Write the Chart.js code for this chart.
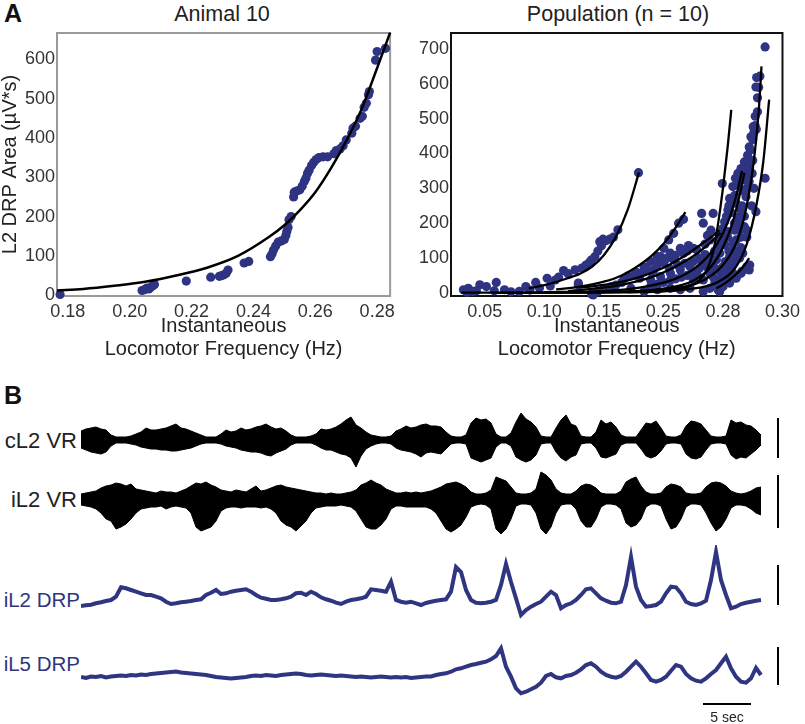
<!DOCTYPE html>
<html>
<head>
<meta charset="utf-8">
<script src="https://cdn.jsdelivr.net/npm/chart.js@4.4.0/dist/chart.umd.min.js"></script>
<style>
  body { margin: 0; background: #fff; font-family: "Liberation Sans", Arial, sans-serif; }
  #fig { position: relative; width: 805px; height: 724px; overflow: hidden; }
  canvas, .txt { position: absolute; }
  .txt { white-space: nowrap; height: 26px; line-height: 26px; color: #222; }
  .panel { font-weight: bold; font-size: 25px; color: #111; }
  .ttl { font-size: 21.5px; text-align: center; }
  .lbl { font-size: 22px; text-align: right; width: 77px; left: 0; }
  .drp { font-size: 20.5px; width: 80px; color: #2f3580; }
</style>
</head>
<body>
<div id="fig">
  <div class="txt panel" style="left:4px;top:0px">A</div>
  <div class="txt ttl" style="left:122px;top:1px;width:200px">Animal 10</div>
  <div class="txt ttl" style="left:518px;top:1px;width:200px">Population (n = 10)</div>
  <canvas id="animalChart" width="400" height="362" style="left:0;top:0"></canvas>
  <canvas id="popChart" width="405" height="362" style="left:400px;top:0"></canvas>

  <div class="txt panel" style="left:4px;top:382px">B</div>
  <div class="txt lbl" style="top:428px">cL2 VR</div>
  <div class="txt lbl" style="top:487px">iL2 VR</div>
  <div class="txt lbl drp" style="top:587px">iL2 DRP</div>
  <div class="txt lbl drp" style="top:651px">iL5 DRP</div>
  <canvas id="cl2Chart" width="705" height="60" style="left:81px;top:410px"></canvas>
  <canvas id="il2Chart" width="705" height="70" style="left:81px;top:468px"></canvas>
  <canvas id="il2DrpChart" width="705" height="80" style="left:81px;top:545px"></canvas>
  <canvas id="il5DrpChart" width="705" height="70" style="left:81px;top:640px"></canvas>
  <div class="txt" style="left:697px;top:704px;width:60px;text-align:center;font-size:14px">5 sec</div>
</div>

<script>
// ---- Panel A, Animal 10 ----
const animalXTicks = [0.18, 0.20, 0.22, 0.24, 0.26, 0.28];
const animalYTicks = [0, 100, 200, 300, 400, 500, 600];
const animalFreq = [0.1775, 0.2040, 0.2048, 0.2055, 0.2062, 0.2068, 0.2075, 0.2080, 0.2183, 0.2262,
  0.2290, 0.2298, 0.2305, 0.2312, 0.2318, 0.2370, 0.2385, 0.2455, 0.2460, 0.2465,
  0.2472, 0.2480, 0.2490, 0.2500, 0.2505, 0.2508, 0.2512, 0.2515, 0.2522, 0.2530,
  0.2532, 0.2540, 0.2550, 0.2558, 0.2565, 0.2570, 0.2575, 0.2580, 0.2588, 0.2595,
  0.2603, 0.2612, 0.2625, 0.2640, 0.2660, 0.2668, 0.2680, 0.2690, 0.2700, 0.2718,
  0.2722, 0.2730, 0.2745, 0.2752, 0.2758, 0.2765, 0.2772, 0.2775, 0.2795, 0.2800, 0.2827];
const animalArea = [2, 12, 14, 18, 16, 20, 24, 27, 36, 46,
  48, 50, 52, 56, 64, 82, 86, 98, 105, 115,
  125, 135, 138, 142, 152, 162, 172, 192, 200, 250,
  262, 265, 268, 278, 290, 298, 310, 318, 330, 338,
  345, 350, 352, 352, 360, 368, 372, 380, 395, 412,
  425, 430, 450, 455, 478, 488, 510, 518, 598, 620, 628];
const animalFitFreq = [0.1765, 0.185, 0.195, 0.205, 0.215, 0.225, 0.235, 0.245, 0.250, 0.255, 0.260, 0.265, 0.270, 0.275, 0.280, 0.2842];
const animalFitArea = [12, 16, 24, 34, 50, 70, 100, 148, 178, 216, 262, 322, 392, 474, 578, 668];

// ---- Panel A, Population ----
const popXTicks = [0.05, 0.10, 0.15, 0.20, 0.25, 0.30];
const popXLabels = ['0.05', '0.10', '0.15', '0.25', '0.28', '0.30'];
const popYTicks = [0, 100, 200, 300, 400, 500, 600, 700];
const popFreq = [
  0.0321, 0.0362, 0.0403, 0.0459, 0.0514, 0.0597, 0.0666, 0.0790, 0.0845, 0.0928, 0.1024, 0.1093, 0.1162, 0.1259, 0.1314,
  0.1397, 0.1425, 0.1466, 0.1493, 0.1549, 0.1618, 0.1791, 0.0350, 0.0430, 0.0580, 0.0720, 0.0880, 0.0960, 0.1050, 0.1120,
  0.1200, 0.1350, 0.1380, 0.1450, 0.1480, 0.1520, 0.1580,
  0.1286, 0.1286, 0.1410, 0.1576, 0.1397, 0.1562, 0.1728, 0.1893, 0.2059, 0.2252,
  0.1673, 0.1756, 0.1838, 0.1921, 0.2004, 0.2087, 0.2169, 0.2252,
  0.1838, 0.1893, 0.1949, 0.2004, 0.2045, 0.2087, 0.2128, 0.2169,
  0.1976, 0.2059, 0.2142, 0.2211, 0.2280, 0.2335, 0.2321, 0.2418, 0.2390,
  0.1700, 0.1780, 0.1860, 0.1950, 0.2030, 0.2100, 0.2200, 0.1900, 0.1800, 0.1650, 0.1600, 0.1500, 0.1450,
  0.2445, 0.2459, 0.2487, 0.2514, 0.2542, 0.2570, 0.2583, 0.2605, 0.2625, 0.2652, 0.2680, 0.2707, 0.2721, 0.2735, 0.2754,
  0.2771, 0.2777, 0.2783, 0.2810, 0.2854, 0.2854, 0.2777, 0.2666, 0.2625, 0.2495,
  0.2542, 0.2583, 0.2556, 0.2611, 0.2666, 0.2721, 0.2694, 0.2652, 0.2611, 0.2556, 0.2501, 0.2473, 0.2390, 0.2363, 0.2335,
  0.2280, 0.2224, 0.2142, 0.2059, 0.1976, 0.1893, 0.2501, 0.2528, 0.2570, 0.2611, 0.2639, 0.2597, 0.2652, 0.2694, 0.2745,
  0.2707, 0.2680, 0.2514, 0.2473, 0.2611, 0.2556, 0.2473, 0.2432, 0.2390, 0.2335, 0.2224, 0.2142, 0.2059, 0.1949, 0.1838,
  0.2460, 0.2500, 0.2540, 0.2580, 0.2620, 0.2660, 0.2700, 0.2725,
  0.2700, 0.2740, 0.2760, 0.2680, 0.2720, 0.2600, 0.2650, 0.2560, 0.2640, 0.2780, 0.2790, 0.2470, 0.2430, 0.2400, 0.2360,
  0.2480, 0.2500, 0.2530, 0.2550, 0.2570, 0.2590, 0.2600, 0.2620, 0.2640, 0.2660, 0.2690, 0.2710, 0.2730, 0.2750, 0.2760,
  0.2770, 0.2790, 0.2800, 0.2600, 0.2620, 0.2640, 0.2660, 0.2700, 0.2720, 0.2750, 0.2680, 0.2700, 0.2650, 0.2620, 0.2590,
  0.2570, 0.2530, 0.2490, 0.2450, 0.2420, 0.2480, 0.2520, 0.2550, 0.2580, 0.2540, 0.2440, 0.2410, 0.2380, 0.2350, 0.2320,
  0.2300, 0.2260, 0.2200, 0.2150, 0.2100, 0.2000, 0.1950, 0.2300, 0.2250, 0.2180, 0.2120, 0.2050, 0.2350, 0.2400, 0.2370];
const popArea = [
  9, 13, 4, 23, 18, 30, 9, 4, 18, 30, 42, 37, 64, 66, 71,
  95, 104, 147, 154, 154, 181, 345, 2, 6, 6, 3, 8, 14, 20, 45,
  55, 80, 88, 120, 135, 150, 160,
  28, 23, -6, 14, -3, 18, 13, 18, 37, 37,
  42, 52, 61, 66, 87, 95, 114, 128,
  75, 90, 104, 128, 152, 171, 200, 211,
  104, 114, 128, 136, 124, 200, 228, 228, 152,
  48, 58, 70, 80, 100, 108, 120, 60, 42, 30, 22, 12, 5,
  95, 133, 171, 204, 238, 271, 305, 329, 343, 357, 376, 395, 419, 448, 477,
  507, 591, 618, 622, 706, 329, 233, 293, 209, 314,
  176, 142, 104, 95, 114, 66, 71, 56, 42, 28, 18, 4, 56, 75, 37,
  56, 75, 66, 56, 47, 37, 75, 66, 66, 152, 181, 200, 238, 276, 343,
  338, 324, 138, 114, 257, 271, 37, 28, 13, 4, 13, 9, 13, 9, 4,
  8, 22, 30, 42, 52, 62, 75, 80,
  180, 250, 300, 220, 360, 120, 160, 60, 100, 470, 520, 165, 120, 100, 88,
  150, 185, 220, 250, 230, 260, 280, 310, 330, 340, 360, 380, 410, 440, 460,
  480, 560, 590, 180, 200, 220, 250, 300, 320, 380, 190, 160, 130, 110, 90,
  80, 50, 40, 30, 45, 60, 90, 120, 110, 160, 70, 80, 100, 110, 90,
  70, 60, 50, 45, 40, 30, 25, 100, 90, 85, 80, 70, 140, 180, 165];
const popFitFreqs = [
  [0.087, 0.100, 0.115, 0.130, 0.140, 0.150, 0.160, 0.170, 0.1795],
  [0.110, 0.130, 0.150, 0.165, 0.180, 0.190, 0.200, 0.210, 0.2185],
  [0.170, 0.200, 0.220, 0.230, 0.236, 0.242, 0.246, 0.250, 0.254, 0.257],
  [0.030, 0.150, 0.200, 0.230, 0.250, 0.262, 0.270, 0.276, 0.280, 0.2824],
  [0.060, 0.180, 0.220, 0.245, 0.260, 0.270, 0.278, 0.284, 0.2888],
  [0.2445, 0.252, 0.260, 0.267, 0.272],
  [0.130, 0.160, 0.180, 0.200, 0.215, 0.230, 0.240, 0.247],
  [0.120, 0.160, 0.190, 0.210, 0.225, 0.238, 0.248],
  [0.100, 0.150, 0.180, 0.210, 0.230, 0.245, 0.255, 0.262, 0.266],
  [0.100, 0.160, 0.200, 0.225, 0.240, 0.250, 0.258, 0.264, 0.268]];
const popFitAreas = [
  [13, 22, 37, 55, 75, 108, 160, 238, 345],
  [10, 18, 32, 50, 80, 106, 140, 186, 232],
  [2, 6, 16, 36, 62, 120, 200, 300, 420, 525],
  [0.5, 2, 10, 30, 80, 150, 250, 380, 520, 650],
  [0, 2, 10, 30, 70, 140, 250, 380, 555],
  [13, 28, 50, 75, 100],
  [15, 28, 45, 72, 100, 135, 160, 180],
  [5, 20, 45, 75, 105, 140, 172],
  [2, 5, 15, 40, 80, 140, 210, 290, 350],
  [1, 3, 12, 35, 75, 130, 200, 280, 345]];

// ---- Panel B, traces (one sample per ~0.52 s), deflection from baseline ----
const cL2Up = [9, 11, 12, 13, 11, 10, 5, 3, 3, 3, 4,
  6, 8, 12, 10, 10, 11, 12, 14, 16, 12,
  11, 9, 7, 5, 3, 3, 3, 6, 10, 8,
  9, 12, 10, 11, 13, 14, 16, 13, 11, 12,
  9, 5, 3, 3, 3, 4, 6, 11, 10, 11,
  13, 16, 20, 23, 15, 12, 8, 5, 4, 3,
  3, 4, 9, 11, 14, 12, 13, 15, 16, 14,
  14, 13, 8, 4, 3, 3, 5, 17, 22, 20,
  21, 17, 6, 3, 3, 7, 18, 27, 21, 18,
  13, 4, 3, 3, 12, 20, 25, 16, 14, 4,
  3, 3, 8, 20, 16, 18, 13, 5, 3, 3,
  3, 10, 17, 16, 19, 12, 4, 3, 3, 5,
  14, 19, 18, 16, 10, 4, 3, 3, 4, 20,
  17, 18, 15, 14, 10, 5];
const cL2Down = [8, 10, 12, 13, 14, 12, 6, 3, 3, 3, 4,
  5, 7, 8, 9, 9, 10, 10, 11, 11, 10,
  9, 8, 6, 4, 3, 3, 3, 4, 6, 7,
  8, 10, 11, 12, 12, 13, 15, 16, 13, 11,
  9, 5, 3, 3, 3, 3, 5, 8, 10, 10,
  12, 14, 15, 18, 27, 16, 9, 6, 4, 3,
  3, 4, 8, 10, 11, 12, 14, 17, 13, 12,
  13, 14, 9, 4, 3, 3, 4, 18, 20, 22,
  20, 18, 7, 3, 3, 6, 17, 20, 22, 20,
  15, 4, 3, 3, 12, 18, 21, 17, 15, 4,
  3, 3, 8, 17, 18, 16, 14, 5, 3, 3,
  3, 9, 16, 18, 16, 11, 4, 3, 3, 4,
  14, 18, 19, 17, 10, 4, 3, 3, 4, 15,
  19, 17, 18, 14, 10, 5];
const iL2Up = [5, 6, 7, 8, 11, 13, 14, 16, 15, 13, 15,
  10, 9, 8, 7, 6, 8, 7, 7, 6, 8,
  10, 13, 16, 15, 17, 14, 12, 9, 8, 7,
  9, 8, 7, 10, 13, 8, 9, 11, 13, 14,
  12, 11, 10, 9, 8, 7, 6, 6, 5, 6,
  5, 5, 6, 7, 9, 14, 16, 19, 16, 14,
  10, 8, 6, 6, 7, 6, 7, 6, 7, 8,
  10, 12, 15, 16, 17, 15, 12, 7, 5, 5,
  6, 9, 22, 20, 18, 12, 6, 5, 5, 6,
  10, 27, 24, 19, 10, 6, 5, 5, 8, 13,
  15, 14, 11, 6, 5, 5, 5, 8, 17, 20,
  22, 13, 7, 5, 5, 6, 12, 15, 14, 12,
  6, 5, 5, 6, 12, 16, 17, 16, 13, 8,
  6, 5, 6, 8, 11, 12];
const iL2Down = [6, 7, 8, 10, 14, 20, 22, 30, 28, 25, 20,
  14, 10, 9, 8, 8, 7, 10, 8, 7, 8,
  9, 14, 28, 32, 30, 28, 22, 12, 9, 8,
  8, 9, 8, 8, 8, 9, 8, 10, 14, 22,
  26, 28, 32, 27, 22, 14, 9, 8, 7, 7,
  7, 6, 7, 8, 12, 20, 28, 30, 30, 26,
  20, 10, 7, 7, 8, 8, 8, 8, 8, 10,
  14, 22, 30, 33, 30, 26, 18, 8, 6, 5,
  6, 10, 30, 35, 30, 20, 7, 5, 5, 6,
  14, 30, 35, 28, 14, 6, 5, 5, 10, 22,
  28, 28, 20, 8, 5, 5, 6, 10, 24, 28,
  26, 20, 8, 5, 5, 7, 20, 30, 28, 20,
  8, 5, 5, 6, 14, 24, 32, 28, 20, 9,
  6, 6, 7, 10, 14, 16];
const iL2Drp = [-6, -5.3, -4.7, -3.3, -2.3, -1, 0, 3.3, 12.7, 11.7, 10,
  8.3, 6.7, 5, 5, 3.3, 1.7, -1.7, -4, -3.3, -2.3,
  -1.7, -1, 0, 0.7, 5, 7.3, 10, 6, 6.7, 8.3,
  9.3, 10, 10.7, 8.3, 5, 2.3, 1.3, 0, 0, 0.7,
  1.7, 3.3, 6.7, 7.3, 5, 8.3, 6, 2.7, 0.7, -0.7,
  -2.7, -4, -1.7, 0, 0.7, 1.7, 3.3, 10.7, 10, 9.3,
  8.3, 18.3, 0, -1.7, -2.7, -1.7, -3.3, -5, -3, -1.7,
  -0.7, 0, 0.7, 8.3, 33, 28, 10, 0, -2.7, -3.3,
  -2.7, -1.7, 0, 15, 36, 18, 1.7, -15, -10, -6.7,
  -4, -1.7, 3.3, 8.3, 5, -8.3, -5, -3.3, 0, 5,
  10.7, 11.7, 6.7, 1.7, -0.7, -2.7, -3.3, -1.7, 15, 43,
  13.3, 0, -6.7, -6, -5, -1.7, 6.7, 13.3, 12.7, 6.7,
  -1.7, -4, -5, -3.3, -0.7, 20, 48, 20, 5, -8.3,
  -6.7, -4, -2.7, -1.7, -0.7, 0];
const iL5Drp = [0, -1, 0.5, 0, 1, -0.5, 0.5, 1, 1.5, 1, 2,
  1.5, 2.5, 2, 3, 3.5, 4, 4.5, 5, 5.5, 4.5,
  4, 3.5, 3, 2.5, 2, 1, 0, -0.5, -1, -1.5,
  -1, -0.5, 0, 1, 1.5, 1, 2, 1.5, 1, 2,
  2.5, 3, 3.5, 3, 2, 1.5, 2, 2.5, 2, 1.5,
  1, 1.5, 1, 0.5, 0, 0.5, 0, -0.5, 0, 0.5,
  0, -0.5, 0, -0.5, 0, -1, -0.5, 0, 0.5, 0.5,
  2, 3, 3.7, 5.3, 7.7, 8.7, 10.3, 12, 13, 14.3,
  15.3, 17.7, 21, 28.7, 10.3, 0.3, -11.3, -16.3, -14.7, -12.3,
  -9.7, -5.7, 1, 3, -0.3, -1.3, 1, 2, 4.3, 7.7,
  12, 13.7, 10.3, 5.3, 2, 0.3, -0.7, 1, 5.3, 10.3,
  15.3, 10.3, 3.7, -3, -4.7, -3, 0.3, 6.3, 12, 10.3,
  3, -1.3, -3.7, -4.7, -1.3, 3, 7, 13.7, 20.3, 8.7,
  0.3, -4.7, -5.7, -1.3, 9, 2];
// scale bars: [top, bottom] deflection, sample position; 5 s bar start/end in samples
const scaleBarSample = 139.4;
const cL2Bar = [22, -18];
const iL2Bar = [24, -29];
const iL2DrpBar = [35, -5];
const iL5DrpBar = [30, -8];
const timeBar = [124.4, 134];
const timeBarLevel = -27;

const FONT = '"Liberation Sans", Arial, sans-serif';
const NAVY = '#2f3580';
const DOT = '#2e3382';
Chart.defaults.font.family = FONT;

const framePlugin = {
  id: 'frame',
  beforeDatasetsDraw(chart, args, opts) {
    const { ctx, chartArea: a } = chart;
    ctx.save();
    ctx.strokeStyle = opts.color;
    ctx.lineWidth = opts.width;
    ctx.strokeRect(a.left, a.top, a.right - a.left, a.bottom - a.top);
    ctx.restore();
  }
};

function pts(xs, ys) {
  return xs.map((x, i) => ({ x: x, y: ys[i] }));
}

function axisX(min, max, ticks, labels) {
  return {
    type: 'linear', min: min, max: max,
    grid: { display: false, drawTicks: false },
    border: { display: false },
    afterBuildTicks: s => { s.ticks = ticks.map(v => ({ value: v })); },
    afterFit: s => { s.height = 66; },
    ticks: {
      color: '#333', padding: 5, font: { size: 18 },
      callback: (v, i) => labels ? labels[i] : v.toFixed(2)
    },
    title: {
      display: true, text: ['Instantaneous', 'Locomotor Frequency (Hz)'],
      color: '#222', font: { size: 20, lineHeight: 1.15 }, padding: { top: 0, bottom: 1.5 }
    }
  };
}

function axisY(min, max, ticks, width, title) {
  return {
    min: min, max: max,
    grid: { display: false, drawTicks: false },
    border: { display: false },
    afterBuildTicks: s => { s.ticks = ticks.map(v => ({ value: v })); },
    afterFit: s => { s.width = width; },
    ticks: { color: '#333', padding: 2, font: { size: 18 } },
    title: title ? {
      display: true, text: title, color: '#222',
      font: { size: 20, lineHeight: 1.0 }, padding: { top: 0, bottom: 0 }
    } : { display: false }
  };
}

const baseOpts = {
  responsive: false, animation: false, devicePixelRatio: 1, events: [],
  plugins: { legend: { display: false }, tooltip: { enabled: false } }
};

new Chart(document.getElementById('animalChart'), {
  type: 'scatter',
  data: {
    datasets: [
      { type: 'line', data: pts(animalFitFreq, animalFitArea), borderColor: '#000', borderWidth: 2.5,
        pointRadius: 0, cubicInterpolationMode: 'monotone', fill: false, clip: false },
      { data: pts(animalFreq, animalArea), backgroundColor: DOT, borderWidth: 0, pointRadius: 4.6, clip: false }
    ]
  },
  options: {
    ...baseOpts,
    layout: { padding: { top: 33, right: 9, left: 0, bottom: 0 } },
    plugins: { ...baseOpts.plugins, frame: { color: '#9a9a9a', width: 2 } },
    scales: {
      x: axisX(0.1765, 0.2842, animalXTicks, null),
      y: axisY(-2, 667, animalYTicks, 57, 'L2 DRP Area (µV*s)')
    }
  },
  plugins: [framePlugin]
});

const popFits = popFitFreqs.map((xs, k) => ({
  type: 'line', data: pts(xs, popFitAreas[k]), borderColor: '#000', borderWidth: 2.3,
  pointRadius: 0, cubicInterpolationMode: 'monotone', fill: false, clip: false
}));

new Chart(document.getElementById('popChart'), {
  type: 'scatter',
  data: {
    datasets: [
      ...popFits,
      { data: pts(popFreq, popArea), backgroundColor: DOT, borderWidth: 0, pointRadius: 4.6, clip: false }
    ]
  },
  options: {
    ...baseOpts,
    layout: { padding: { top: 33, right: 20, left: 0, bottom: 0 } },
    plugins: { ...baseOpts.plugins, frame: { color: '#111', width: 2 } },
    scales: {
      x: axisX(0.0217, 0.30, popXTicks, popXLabels),
      y: axisY(-9, 746, popYTicks, 51, null)
    }
  },
  plugins: [framePlugin]
});

// ---- Panel B ----
function band(up, down, color) {
  return [
    { data: up.map((v, i) => ({ x: i, y: v })), borderColor: color, borderWidth: 1, pointRadius: 0, fill: false },
    { data: down.map((v, i) => ({ x: i, y: -v })), borderColor: color, borderWidth: 1, pointRadius: 0,
      fill: '-1', backgroundColor: color }
  ];
}

function trace(values, color) {
  return { data: values.map((v, i) => ({ x: i, y: v })), borderColor: color, borderWidth: 4,
    pointRadius: 0, fill: false };
}

function bar(vals) {
  return { data: [{ x: scaleBarSample, y: vals[0] }, { x: scaleBarSample, y: vals[1] }],
    borderColor: '#000', borderWidth: 2, pointRadius: 0, fill: false };
}

function traceChart(id, datasets, yMin, yMax) {
  return new Chart(document.getElementById(id), {
    type: 'line',
    data: { datasets: datasets },
    options: {
      ...baseOpts,
      layout: { padding: 0 },
      scales: {
        x: { type: 'linear', display: false, min: 0, max: 141 },
        y: { display: false, min: yMin, max: yMax }
      }
    }
  });
}

traceChart('cl2Chart', [...band(cL2Up, cL2Down, '#000'), bar(cL2Bar)], -30, 30);
traceChart('il2Chart', [...band(iL2Up, iL2Down, '#000'), bar(iL2Bar)], -39, 31);
traceChart('il2DrpChart', [trace(iL2Drp, NAVY), bar(iL2DrpBar)], -25, 55);
traceChart('il5DrpChart', [
  trace(iL5Drp, NAVY), bar(iL5DrpBar),
  { data: [{ x: timeBar[0], y: timeBarLevel }, { x: timeBar[1], y: timeBarLevel }],
    borderColor: '#000', borderWidth: 2, pointRadius: 0, fill: false }
], -33, 37);
</script>
</body>
</html>
